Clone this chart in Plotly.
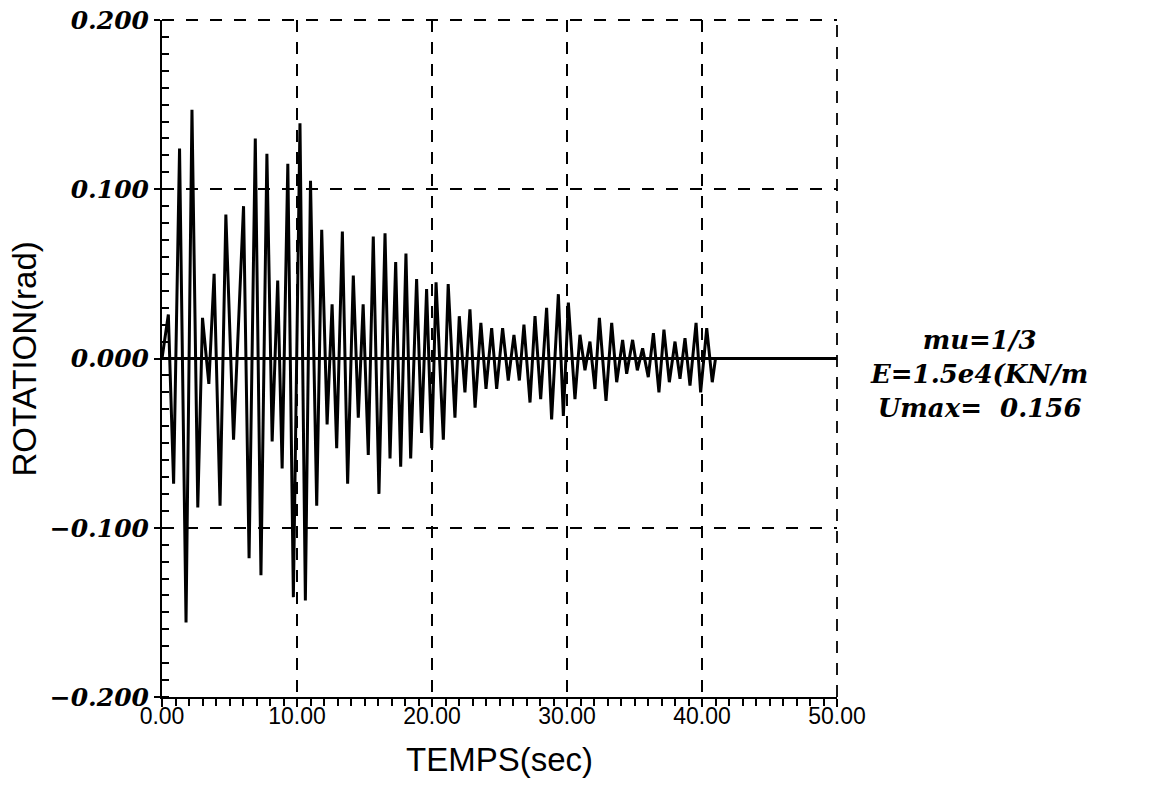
import plotly.graph_objects as go

# Time (s) of successive peaks / troughs
temps = [0.0, 0.47, 0.86, 1.3, 1.78, 2.22, 2.65, 3.0, 3.47, 3.86, 4.3, 4.73, 5.3,
         6.04, 6.45, 6.91, 7.33, 7.77, 8.16, 8.57, 8.9, 9.32, 9.73, 10.22, 10.62,
         11.0, 11.46, 11.83, 12.23, 12.6, 12.94, 13.36, 13.75, 14.17, 14.54, 14.9,
         15.28, 15.65, 16.07, 16.52, 16.89, 17.31, 17.68, 18.07, 18.42, 18.86, 19.23,
         19.6, 19.98, 20.3, 20.84, 21.2, 21.7, 22.02, 22.44, 22.81, 23.19, 23.62,
         24.0, 24.42, 24.79, 25.23, 25.65, 26.07, 26.47, 26.81, 27.26, 27.63, 28.05,
         28.49, 28.86, 29.36, 29.73, 30.1, 30.59, 30.96, 31.33, 31.7, 32.07, 32.4,
         32.89, 33.31, 33.68, 34.12, 34.42, 34.86, 35.21, 35.6, 36.02, 36.4, 36.81,
         37.18, 37.58, 38.0, 38.37, 38.74, 39.11, 39.56, 39.9, 40.35, 40.76, 41.0]
# Rotation (rad)
rotation = [0.0, 0.026, -0.074, 0.124, -0.156, 0.147, -0.088, 0.024, -0.015, 0.05,
            -0.087, 0.085, -0.048, 0.09, -0.118, 0.13, -0.128, 0.121, -0.049, 0.046,
            -0.065, 0.115, -0.141, 0.139, -0.143, 0.105, -0.087, 0.076, -0.039, 0.032,
            -0.053, 0.075, -0.074, 0.049, -0.035, 0.032, -0.057, 0.072, -0.08, 0.074,
            -0.059, 0.057, -0.064, 0.062, -0.059, 0.047, -0.044, 0.041, -0.053, 0.045,
            -0.048, 0.044, -0.035, 0.025, -0.02, 0.029, -0.029, 0.021, -0.018, 0.018,
            -0.018, 0.018, -0.013, 0.014, -0.013, 0.02, -0.026, 0.025, -0.024, 0.03,
            -0.036, 0.038, -0.034, 0.033, -0.024, 0.014, -0.007, 0.01, -0.018, 0.024,
            -0.025, 0.021, -0.014, 0.011, -0.009, 0.011, -0.007, 0.006, -0.011, 0.015,
            -0.02, 0.017, -0.014, 0.01, -0.012, 0.012, -0.016, 0.021, -0.02, 0.018,
            -0.014, 0.0]

x_ticks = [0, 10, 20, 30, 40, 50]
x_ticklabels = ["0.00", "10.00", "20.00", "30.00", "40.00", "50.00"]
y_ticks = [-0.2, -0.1, 0.0, 0.1, 0.2]
y_ticklabels = ["\u22120.200", "\u22120.100", "0.000", "0.100", "0.200"]
info_lines = ["mu=1/3", "E=1.5e4(KN/m", "Umax=\u00a0 0.156"]

fig = go.Figure()
fig.add_trace(go.Scatter(x=temps, y=rotation, mode="lines",
                         line=dict(color="black", width=3), showlegend=False))

serif_bi = dict(family="DejaVu Serif", size=25, color="black", style="italic", weight="bold")
sans = dict(family="Liberation Sans", size=23, color="black")

fig.update_xaxes(range=[0, 50], tickvals=x_ticks, ticktext=x_ticklabels, automargin=False,
                 tickfont=sans, showline=True, linecolor="black", linewidth=2,
                 ticks="outside", ticklen=8, tickwidth=2, tickcolor="black",
                 ticklabelstandoff=-11,
                 minor=dict(ticks="outside", ticklen=7, tickwidth=1.5, tickcolor="black", dtick=1,
                            showgrid=False),
                 showgrid=True, gridcolor="black", gridwidth=1.8, griddash="12px,10px",
                 zeroline=False)
fig.update_yaxes(range=[-0.2, 0.2], tickvals=y_ticks, ticktext=y_ticklabels, automargin=False,
                 tickfont=serif_bi, showline=True, linecolor="black", linewidth=2,
                 ticks="outside", ticklen=6, tickwidth=2, tickcolor="black",
                 ticklabeloverflow="allow",
                 minor=dict(ticks="inside", ticklen=7, tickwidth=1.5, tickcolor="black", dtick=0.01,
                            showgrid=False),
                 showgrid=True, gridcolor="black", gridwidth=1.8, griddash="12px,12px",
                 zeroline=True, zerolinecolor="black", zerolinewidth=2.5)

# dashed top and right frame
fig.add_shape(type="line", xref="paper", yref="paper", x0=0, x1=1, y0=1, y1=1,
              line=dict(color="black", width=1.8, dash="12px,12px"))
fig.add_shape(type="line", xref="paper", yref="paper", x0=1, x1=1, y0=0, y1=1,
              line=dict(color="black", width=1.8, dash="12px,10px"))

fig.add_annotation(text="TEMPS(sec)", xref="paper", yref="paper", x=0.5, y=-0.093,
                   xanchor="center", yanchor="middle", showarrow=False,
                   font=dict(family="Liberation Sans", size=33, color="black"))
fig.add_annotation(text="ROTATION(rad)", xref="paper", yref="paper", x=-0.203, y=0.5,
                   xanchor="center", yanchor="middle", textangle=-90, showarrow=False,
                   font=dict(family="Liberation Sans", size=33, color="black"))

info_font = dict(family="DejaVu Serif", size=26, color="black", style="italic", weight="bold")
fig.add_annotation(text="<br>".join(info_lines), xref="paper", yref="paper",
                   x=1.21, y=0.5, xanchor="center", yanchor="middle", align="center",
                   showarrow=False, font=info_font, yshift=-15)

fig.update_layout(width=1152, height=787, margin=dict(l=162, r=315, t=20, b=90),
                  plot_bgcolor="white", paper_bgcolor="white")

fig.write_html("out.html", config={"displayModeBar": False},
               post_script="document.body.style.margin='0';document.body.style.overflow='hidden';")
